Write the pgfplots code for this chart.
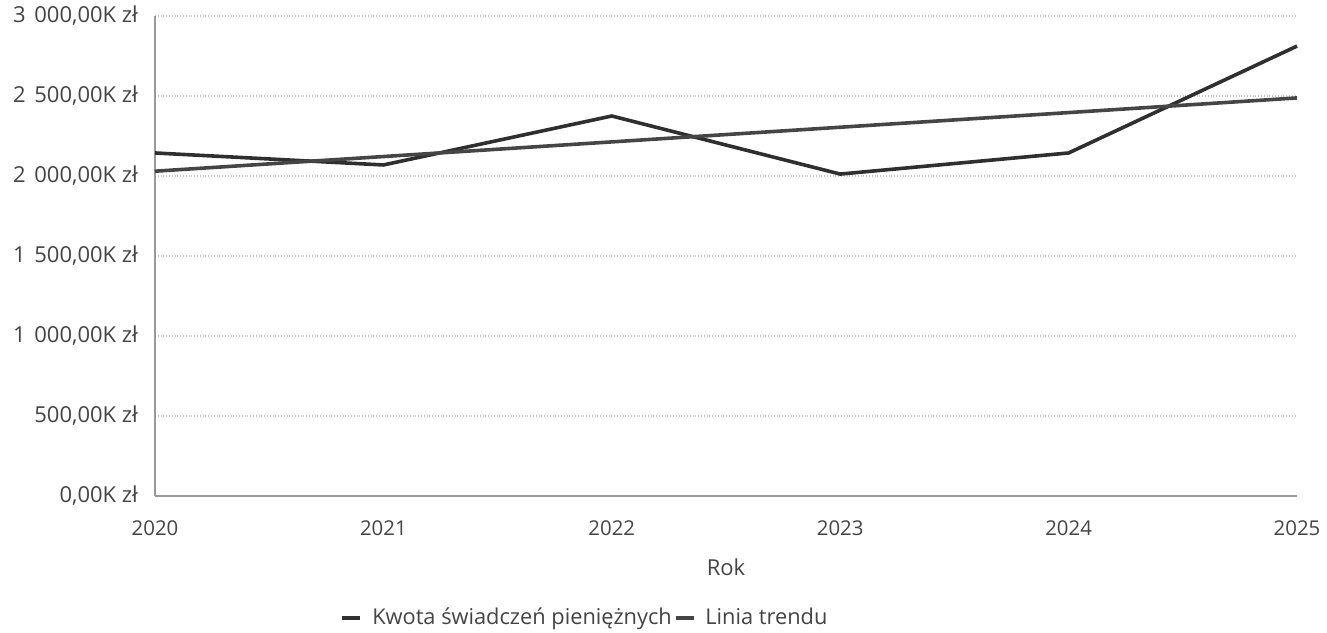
\documentclass[border=0pt]{standalone}
\usepackage{fontspec}
\setmainfont{Open Sans}
\usepackage{pgfplots}
\pgfplotsset{compat=1.18}
\definecolor{dataline}{HTML}{2F2F2F}
\definecolor{trendline}{HTML}{454545}
\definecolor{txt}{HTML}{444444}
\newcommand{\tsp}{\hspace{0.4em}}
\begin{document}
\begin{tikzpicture}
\useasboundingbox (-77.5pt,-68pt) rectangle (586pt,248pt);
\begin{axis}[
  at={(0pt,0pt)}, anchor=south west,
  scale only axis,
  width=571pt, height=240pt,
  xmin=2020, xmax=2025, ymin=0, ymax=3000,
  axis x line*=bottom, axis y line*=left,
  axis line style={-, draw=gray!80, line width=0.6pt},
  xtick={2020,2021,2022,2023,2024,2025},
  xticklabels={2020,2021,2022,2023,2024,2025},
  ytick={0,500,1000,1500,2000,2500,3000},
  yticklabels={{0,00K zł},{500,00K zł},{1\tsp000,00K zł},{1\tsp500,00K zł},{2\tsp000,00K zł},{2\tsp500,00K zł},{3\tsp000,00K zł}},
  major tick length=0pt,
  ymajorgrids,
  grid style={densely dotted, draw=gray!45, line width=0.6pt},
  xticklabel style={font=\fontsize{10.2}{12}\selectfont, text=txt, yshift=-9pt},
  yticklabel style={font=\fontsize{11}{13}\selectfont, text=txt, xshift=-5pt},
  xlabel={Rok},
  xlabel style={at={(axis description cs:0.5,0)}, anchor=center, yshift=-35.5pt, font=\fontsize{11}{13}\selectfont, text=txt},
  legend style={at={(axis description cs:0.3757,-0.2542)}, anchor=center, draw=none, fill=none,
    font=\fontsize{10.9}{12}\selectfont, text=txt, inner sep=0pt,
    nodes={inner sep=0pt},
    /tikz/every odd column/.append style={column sep=5pt},
    /tikz/every even column/.append style={column sep=1pt}},
  legend columns=2,
  legend image code/.code={\draw[#1, line width=1.8pt] (0pt,0pt) -- (9pt,0pt);},
  clip=false,
]
\addplot[dataline, line width=1.8pt] coordinates {
  (2020,2144) (2021,2069) (2022,2375) (2023,2012) (2024,2144) (2025,2812)
};
\addlegendentry{Kwota świadczeń pieniężnych}
\addplot[trendline, line width=1.8pt] coordinates {
  (2020,2030) (2025,2488)
};
\addlegendentry{Linia trendu}
\end{axis}
\end{tikzpicture}
\end{document}
